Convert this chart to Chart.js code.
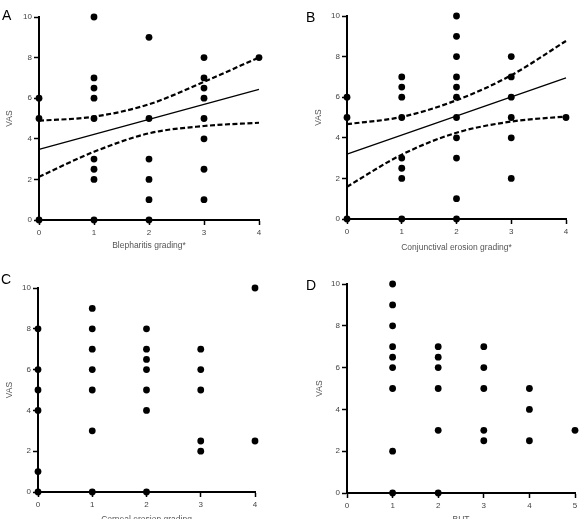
<!DOCTYPE html>
<html>
<head>
<meta charset="utf-8">
<script src="https://cdn.jsdelivr.net/npm/chart.js@4"></script>
<style>
html,body{margin:0;padding:0;width:581px;height:519px;overflow:hidden;background:#fff;}
.panel{position:absolute;}
.lbl{position:absolute;font-family:"Liberation Sans",Arial,sans-serif;font-size:14px;line-height:14px;color:#000;}
</style>
</head>
<body>
<script>
// ---------- DATA ----------
// Panel A: Blepharitis grading vs VAS
const A_grade = [0,0,0, 1,1,1,1,1,1,1,1,1, 2,2,2,2,2,2, 3,3,3,3,3,3,3,3, 4];
const A_vas   = [6,5,0, 10,7,6.5,6,5,3,2.5,2,0, 9,5,3,2,1,0, 8,7,6.5,6,5,4,2.5,1, 8];
const A_fitX  = [0,4];
const A_fit   = [3.48,6.44];
const A_ciX   = [0,1,2,3,4];
const A_upper = [4.89,5.09,5.70,6.81,8.01];
const A_lower = [2.13,3.36,4.27,4.63,4.79];

// Panel B: Conjunctival erosion grading vs VAS
const B_grade = [0,0,0, 1,1,1,1,1,1,1,1, 2,2,2,2,2,2,2,2,2,2,2, 3,3,3,3,3,3, 4];
const B_vas   = [6,5,0, 7,6.5,6,5,3,2.5,2,0, 10,9,8,7,6.5,6,5,4,3,1,0, 8,7,6,5,4,2, 5];
const B_fitX  = [0,4];
const B_fit   = [3.20,6.95];
const B_ciX   = [0,1,2,3,4];
const B_upper = [4.67,5.03,5.85,7.08,8.77];
const B_lower = [1.59,3.17,4.25,4.80,5.05];

// Panel C: Corneal erosion grading vs VAS
const C_grade = [0,0,0,0,0,0, 1,1,1,1,1,1,1, 2,2,2,2,2,2,2, 3,3,3,3,3, 4,4];
const C_vas   = [8,6,5,4,1,0, 9,8,7,6,5,3,0, 8,7,6.5,6,5,4,0, 7,6,5,2.5,2, 10,2.5];

// Panel D: BUT vs VAS
const D_but   = [1,1,1,1,1,1,1,1,1, 2,2,2,2,2,2, 3,3,3,3,3, 4,4,4, 5];
const D_vas   = [10,9,8,7,6.5,6,5,2,0, 7,6.5,6,5,3,0, 7,6,5,3,2.5, 5,4,2.5, 3];

const yTicks = [0,2,4,6,8,10];

// ---------- DRAWING ----------
const FONT = '"Liberation Sans", Arial, sans-serif';
function pts(xs, ys){ return xs.map((x,i)=>({x:x, y:ys[i]})); }

const panels = [
  {letter:'A', lx:2, ly:8, xs:A_grade, ys:A_vas, xMax:4, title:'Blepharitis grading*',
   fit:[A_fitX,A_fit], ci:[A_ciX,A_upper,A_lower],
   area:{l:39,r:259,t:17,b:220}, yTitleX:10, xTitleY:246},
  {letter:'B', lx:306, ly:10, xs:B_grade, ys:B_vas, xMax:4, title:'Conjunctival erosion grading*',
   fit:[B_fitX,B_fit], ci:[B_ciX,B_upper,B_lower],
   area:{l:347,r:566,t:16,b:219}, yTitleX:319, xTitleY:248},
  {letter:'C', lx:1, ly:272, xs:C_grade, ys:C_vas, xMax:4, title:'Corneal erosion grading',
   area:{l:38,r:255,t:288,b:492}, yTitleX:10, xTitleY:520},
  {letter:'D', lx:306, ly:278, xs:D_but, ys:D_vas, xMax:5, title:'BUT',
   area:{l:347,r:575,t:284,b:493}, yTitleX:320, xTitleY:520}
];

const titleFont = {family:FONT, size:8.5};
const tickFont = {family:FONT, size:8};
const lh = titleFont.size*1.2;

panels.forEach(p=>{
  const cl = p.yTitleX - 10;
  const ct = p.area.t - 17;
  const cr = p.area.r + 18;
  const cb = p.xTitleY + 14;
  const W = cr - cl, H = cb - ct;
  const div = document.createElement('div');
  div.className='panel';
  div.style.left=cl+'px'; div.style.top=ct+'px';
  div.style.width=W+'px'; div.style.height=H+'px';
  const cv = document.createElement('canvas');
  cv.width=W; cv.height=H;
  cv.style.width=W+'px'; cv.style.height=H+'px';
  div.appendChild(cv);
  document.body.appendChild(div);

  const lab = document.createElement('div');
  lab.className='lbl'; lab.textContent=p.letter;
  lab.style.left=p.lx+'px'; lab.style.top=p.ly+'px';
  document.body.appendChild(lab);

  const yW = p.area.l - cl;
  const xH = cb - p.area.b;
  const datasets = [{
    type:'scatter', data:pts(p.xs,p.ys), pointRadius:3.4, pointBackgroundColor:'#000',
    pointBorderWidth:0, showLine:false, clip:false, order:0
  }];
  if (p.fit){
    datasets.push({type:'line', data:pts(p.fit[0],p.fit[1]), borderColor:'#000', borderWidth:1.3,
      pointRadius:0, fill:false, clip:false, order:1});
    datasets.push({type:'line', data:pts(p.ci[0],p.ci[1]), borderColor:'#000', borderWidth:2.2,
      borderDash:[5,2.5], pointRadius:0, fill:false, cubicInterpolationMode:'monotone', clip:false, order:1});
    datasets.push({type:'line', data:pts(p.ci[0],p.ci[2]), borderColor:'#000', borderWidth:2.2,
      borderDash:[5,2.5], pointRadius:0, fill:false, cubicInterpolationMode:'monotone', clip:false, order:1});
  }
  new Chart(cv, {
    type:'scatter',
    data:{datasets},
    options:{
      responsive:false, animation:false, devicePixelRatio:1,
      layout:{padding:{left:0, right:cr-p.area.r, top:p.area.t-ct, bottom:0}},
      plugins:{legend:{display:false}, tooltip:{enabled:false}},
      scales:{
        x:{type:'linear', min:0, max:p.xMax,
          afterFit:s=>{s.height=xH;},
          afterBuildTicks:s=>{s.ticks=[]; for(let i=0;i<=p.xMax;i++) s.ticks.push({value:i});},
          ticks:{font:tickFont, color:'#444', padding:3, maxRotation:0},
          grid:{drawOnChartArea:false, drawTicks:true, tickLength:5, tickWidth:1.5, tickColor:'#000'},
          border:{display:true, color:'#000', width:2},
          title:{display:true, text:p.title, font:titleFont, color:'#555', padding:{top:0,bottom:14-lh/2}}
        },
        y:{type:'linear', min:0, max:10,
          afterFit:s=>{s.width=yW;},
          afterBuildTicks:s=>{s.ticks=yTicks.map(v=>({value:v}));},
          ticks:{font:tickFont, color:'#444', padding:2},
          grid:{drawOnChartArea:false, drawTicks:true, tickLength:5, tickWidth:1.5, tickColor:'#000'},
          border:{display:true, color:'#000', width:2},
          title:{display:true, text:'VAS', font:titleFont, color:'#555', padding:{top:10-lh/2,bottom:0}}
        }
      }
    }
  });
});
</script>
</body>
</html>
